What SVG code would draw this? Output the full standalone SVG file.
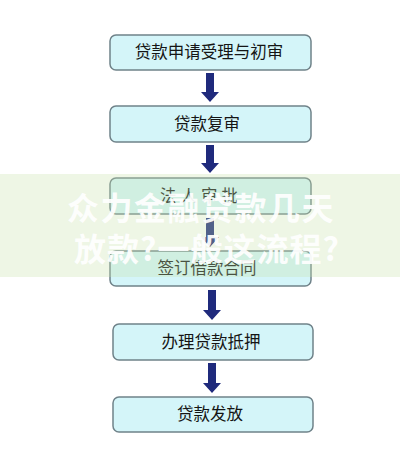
<svg xmlns="http://www.w3.org/2000/svg" width="400" height="453" viewBox="0 0 400 453">
<style>
.box{fill:#d4f5f9;stroke:#6f8289;stroke-width:1.5}
.lbl{font-family:"Noto Sans CJK SC","Noto Sans",sans-serif;font-size:16.5px;fill:#151515;text-anchor:middle;dominant-baseline:central}
.arr{fill:#1f2a7c}
.wm{font-family:"Noto Sans CJK SC","Noto Sans",sans-serif;font-size:32px;font-weight:bold;fill:#ffffff;opacity:0.92}
</style>
<rect width="400" height="453" fill="#ffffff"/>
<g id="connectors">
<polygon class="arr" points="206,73 214,73 214,92 219,92 210,102 201,92 206,92"/>
<polygon class="arr" points="206,145 214,145 214,163 219,163 210,173 201,163 206,163"/>
<polygon class="arr" points="206,218 214,218 214,237 219,237 210,247 201,237 206,237"/>
<polygon class="arr" points="208,290 216,290 216,310 221,310 212,320 203,310 208,310"/>
<polygon class="arr" points="208,363 216,363 216,383 221,383 212,393 203,383 208,383"/>
</g>
<g id="n1"><rect class="box" x="110" y="35" width="201" height="35" rx="6"/><text class="lbl" x="209" y="51">贷款申请受理与初审</text></g>
<g id="n2"><rect class="box" x="110" y="106" width="201" height="36" rx="6"/><text class="lbl" x="207" y="123">贷款复审</text></g>
<g id="n3"><rect class="box" x="110" y="178" width="201" height="36" rx="6"/><text class="lbl" x="201" y="195" letter-spacing="4">法人审批</text></g>
<g id="n4"><rect class="box" x="110" y="251" width="201" height="35" rx="6"/><text class="lbl" x="207" y="267">签订借款合同</text></g>
<g id="n5"><rect class="box" x="113" y="324" width="200" height="36" rx="6"/><text class="lbl" x="211" y="341">办理贷款抵押</text></g>
<g id="n6"><rect class="box" x="113" y="397" width="200" height="35" rx="6"/><text class="lbl" x="210" y="413">贷款发放</text></g>
<rect x="0" y="174" width="400" height="103" fill="#c8e1aa" opacity="0.3"/>
<text class="wm" x="67" y="220" letter-spacing="1.5">众力金融贷款几天</text>
<text class="wm" x="74" y="261" letter-spacing="1">放款?一般这流程?</text>
</svg>
